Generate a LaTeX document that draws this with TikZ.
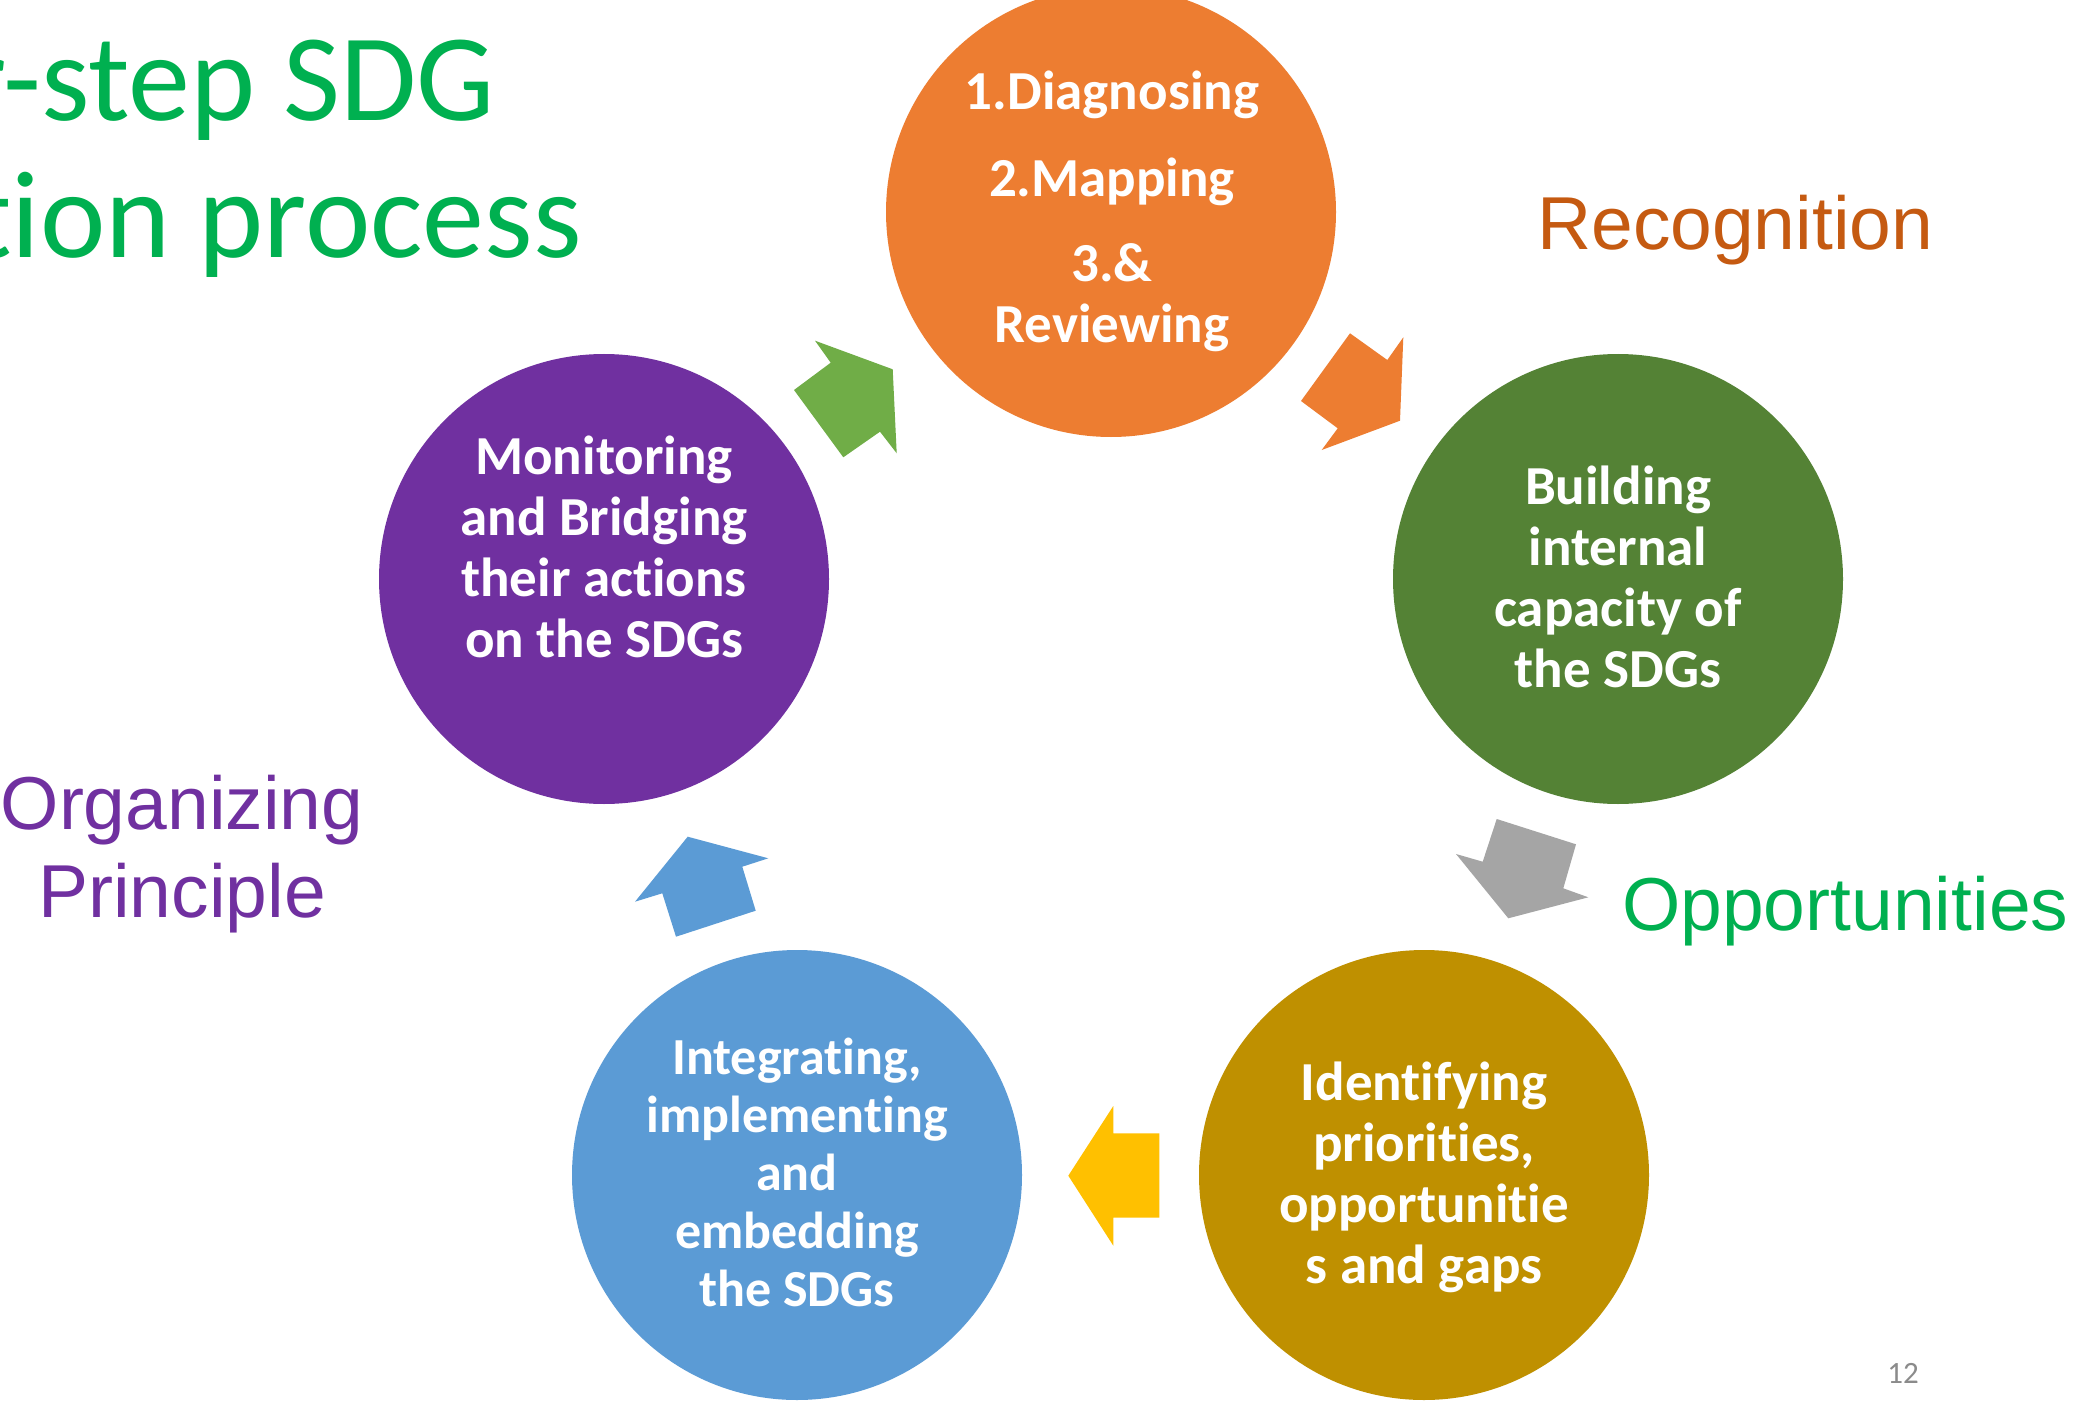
\documentclass[tikz,border=0pt]{standalone}
\usepackage{fontspec}
\setmainfont{Carlito}[Ligatures={NoCommon}]
\newfontfamily\arialf{Liberation Sans}
\definecolor{cOrange}{HTML}{ED7D31}
\definecolor{cGreen}{HTML}{548235}
\definecolor{cGold}{HTML}{BF9000}
\definecolor{cBlue}{HTML}{5B9BD5}
\definecolor{cPurple}{HTML}{7030A0}
\definecolor{aGreen}{HTML}{70AD47}
\definecolor{aGrey}{HTML}{A5A5A5}
\definecolor{aYellow}{HTML}{FFC000}
\definecolor{tGreen}{HTML}{00B050}
\definecolor{tRust}{HTML}{C55A11}
\definecolor{pgGrey}{HTML}{8B8B8B}
\tikzset{
  stage/.style={circle, minimum size=450pt, inner sep=0pt, draw=none, fill=#1},
  stagetext/.style={anchor=base, inner sep=0pt, text=white, font=\bfseries\fontsize{55}{61}\selectfont},
  biglabel/.style={inner sep=0pt, anchor=base west, font=\arialf\fontsize{75}{88}\selectfont},
  titletext/.style={inner sep=0pt, anchor=base east, text=tGreen, font=\fontsize{124}{140}\selectfont},
  blockarrow/.style={fill=#1, draw=none},
}
\begin{document}
\begin{tikzpicture}[x=1pt,y=-1pt]
\useasboundingbox (0,0) rectangle (2074,1404);
\clip (0,0) rectangle (2074,1404);
\fill[white] (0,0) rectangle (2074,1404);

% title (cut at left edge, as in the reference)
\node[titletext] (title1) at (495,121) {r-step SDG};
\node[titletext] (title2) at (582,258) {tion process};

% stages
\node[stage=cOrange] (diag) at (1111,212) {};
\node[stage=cGreen]  (build) at (1618,579) {};
\node[stage=cGold]   (ident) at (1424,1175) {};
\node[stage=cBlue]   (integ) at (797,1175) {};
\node[stage=cPurple] (monit) at (604,579) {};

\node[stagetext] (diagtxt) at (1112,110) {\begin{tabular}[t]{@{}c@{}}1.Diagnosing\\[26pt]2.Mapping\\[24pt]3.\&\\Reviewing\end{tabular}};
\node[stagetext] (buildtxt) at (1618,504) {\begin{tabular}[t]{@{}c@{}}Building\\internal\\capacity of\\the SDGs\end{tabular}};
\node[stagetext] (identtxt) at (1424,1100) {\begin{tabular}[t]{@{}c@{}}Identifying\\priorities,\\opportunitie\\s and gaps\end{tabular}};
\node[stagetext, font=\bfseries\fontsize{52}{58}\selectfont] (integtxt) at (797,1074) {\begin{tabular}[t]{@{}c@{}}Integrating,\\implementing\\and\\embedding\\the SDGs\end{tabular}};
\node[stagetext] (monittxt) at (604,474) {\begin{tabular}[t]{@{}c@{}}Monitoring\\and Bridging\\their actions\\on the SDGs\end{tabular}};

% block arrows
\fill[blockarrow=aGreen] (815,340.7) -- (892.7,369.3) -- (896.7,453.3) -- (880,431.7) -- (843.3,457.3) -- (794,390) -- (830.7,362.7) -- cycle;
\fill[blockarrow=cOrange] (1350,333.3) -- (1387.3,360) -- (1403.3,337.3) -- (1400,420.7) -- (1321.7,450) -- (1337.7,428.3) -- (1301,401) -- cycle;
\fill[blockarrow=aGrey] (1496.7,819) -- (1576,844.3) -- (1563.3,888.3) -- (1588.3,897.3) -- (1508.3,918.3) -- (1456,854) -- (1482.7,861.7) -- cycle;
\fill[blockarrow=aYellow] (1113.3,1106) -- (1113.3,1133.3) -- (1159.3,1133.3) -- (1159.3,1217.7) -- (1113.3,1217.7) -- (1113.3,1245.7) -- (1068.3,1175.7) -- cycle;
\fill[blockarrow=cBlue] (687.7,836.7) -- (768.3,858.3) -- (742.3,866.7) -- (755.7,910.7) -- (676,936.7) -- (662.3,893.3) -- (635,901.7) -- cycle;

% side labels
\node[biglabel, text=tRust] (recog) at (1537,250) {Recognition};
\node[biglabel, text=tGreen] (oppor) at (1622,930) {Opportunities};
\node[biglabel, anchor=base, text=cPurple] (organ) at (182,829) {\begin{tabular}[t]{@{}c@{}}Organizing\\Principle\end{tabular}};

% page number
\node[inner sep=0pt, anchor=base east, text=pgGrey, font=\fontsize{31}{36}\selectfont] (pagenum) at (1919,1383) {12};
\end{tikzpicture}
\end{document}
